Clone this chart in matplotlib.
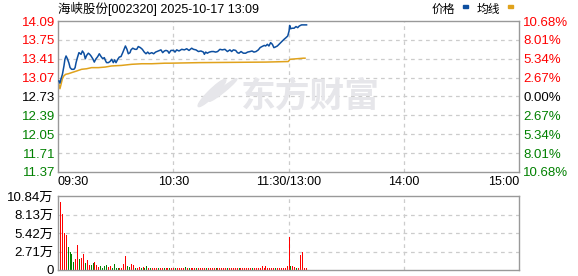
import matplotlib
matplotlib.use("Agg")
import matplotlib.pyplot as plt
from matplotlib.patches import Ellipse

plt.rcParams['font.family'] = ['Liberation Sans', 'Noto Sans CJK SC', 'DejaVu Sans']

# price trace: minutes since 09:30 (afternoon continues at 120)
price_min = [0.5, 1.0, 1.6, 2.3, 3.1, 3.6, 4.2, 4.9, 5.7, 6.3, 7.1, 8.3, 8.9, 9.4, 10.1,
             10.9, 12.0, 12.7, 13.5, 14.2, 14.9, 15.8, 16.5, 17.2, 18.1, 18.9, 19.6, 20.7,
             21.5, 22.4, 23.3, 24.1, 24.8, 25.3, 26.2, 27.1, 27.9, 28.8, 29.5, 30.2, 31.1,
             31.9, 32.8, 33.7, 34.4, 35.1, 35.9, 36.6, 37.5, 38.0, 38.9, 40.1, 41.0, 41.8,
             42.9, 43.9, 44.9, 45.8, 46.7, 47.5, 48.8, 49.8, 50.8, 52.2, 53.6, 54.5, 55.4,
             56.2, 57.1, 57.8, 58.8, 60.2, 60.9, 61.8, 63.0, 64.4, 65.8, 67.0, 68.2, 69.6,
             70.5, 71.8, 73.1, 74.4, 75.7, 76.2, 76.9, 77.7, 78.8, 80.0, 80.9, 82.1, 83.1,
             84.3, 85.5, 86.9, 88.2, 89.5, 90.4, 91.3, 92.5, 93.4, 94.2, 95.3, 96.5, 97.7,
             98.7, 100.0, 101.0, 102.0, 103.1, 104.3, 105.2, 106.2, 107.4, 108.1, 109.0,
             109.8, 110.7, 111.6, 112.4, 113.1, 114.2, 115.6, 116.8, 117.7, 118.7, 119.6,
             120.3, 120.6, 121.1, 121.8, 122.9, 123.9, 124.8, 125.6, 126.8, 128.1, 129.4]
price = [13.01, 12.97, 13.05, 13.13, 13.28, 13.40, 13.46, 13.41, 13.33, 13.25, 13.22, 13.22,
         13.25, 13.34, 13.43, 13.52, 13.49, 13.55, 13.51, 13.41, 13.47, 13.51, 13.49, 13.46,
         13.41, 13.35, 13.40, 13.45, 13.50, 13.45, 13.41, 13.43, 13.37, 13.34, 13.34, 13.36,
         13.40, 13.34, 13.39, 13.34, 13.40, 13.44, 13.45, 13.52, 13.58, 13.64, 13.58, 13.50,
         13.52, 13.57, 13.60, 13.58, 13.58, 13.63, 13.61, 13.58, 13.53, 13.50, 13.53, 13.50,
         13.52, 13.50, 13.53, 13.55, 13.57, 13.52, 13.55, 13.56, 13.55, 13.51, 13.56, 13.56,
         13.53, 13.57, 13.55, 13.58, 13.57, 13.59, 13.56, 13.60, 13.58, 13.57, 13.54, 13.55,
         13.53, 13.49, 13.53, 13.51, 13.53, 13.54, 13.54, 13.53, 13.54, 13.58, 13.57, 13.58,
         13.54, 13.57, 13.54, 13.57, 13.56, 13.52, 13.51, 13.54, 13.51, 13.51, 13.53, 13.54,
         13.55, 13.53, 13.54, 13.57, 13.61, 13.63, 13.65, 13.64, 13.67, 13.64, 13.70, 13.67,
         13.61, 13.62, 13.64, 13.69, 13.73, 13.76, 13.79, 13.82, 13.91, 14.01, 13.95, 13.96,
         13.96, 13.99, 13.97, 14.00, 14.02, 14.02, 14.02]

avg_min = [0.5, 1.0, 1.6, 2.3, 3.0, 4.0, 5.4, 7.1, 8.9, 10.6, 12.3, 14.9, 17.5, 21.0, 24.5,
           27.9, 33.1, 38.4, 43.6, 48.8, 55.7, 58.3, 73.6, 108.3, 119.9, 120.8, 124.3,
           127.7, 128.6]
avg = [12.95, 12.87, 12.95, 13.05, 13.10, 13.13, 13.14, 13.16, 13.18, 13.20, 13.22, 13.23,
       13.25, 13.25, 13.26, 13.28, 13.29, 13.31, 13.32, 13.32, 13.33, 13.33, 13.34, 13.35,
       13.36, 13.40, 13.41, 13.42, 13.42]

# volume per minute (万), minute 1..129, r = up, g = down
vol = [9.96, 8.20, 5.47, 5.13, 3.42, 2.64, 2.34, 1.22, 1.56, 3.66,
       1.60, 1.76, 2.34, 1.00, 1.50, 0.70, 0.70, 0.98, 1.17, 0.73,
       0.44, 0.63, 0.34, 0.59, 0.73, 0.44, 0.59, 0.25, 0.88, 0.29,
       0.29, 0.25, 0.29, 0.88, 2.05, 0.59, 0.44, 0.88, 0.73, 0.29,
       0.29, 0.44, 0.29, 0.44, 0.25, 0.59, 0.25, 0.30, 0.25, 0.25,
       0.25, 0.25, 0.30, 0.25, 0.25, 0.25, 0.30, 0.25, 0.25, 0.25,
       0.25, 0.30, 0.25, 0.25, 0.25, 0.39, 0.25, 0.25, 0.30, 0.25,
       0.25, 0.25, 0.25, 0.30, 0.25, 0.25, 0.25, 0.25, 0.25, 0.30,
       0.25, 0.25, 0.25, 0.25, 0.30, 0.25, 0.25, 0.25, 0.25, 0.25,
       0.30, 0.25, 0.25, 0.25, 0.25, 0.25, 0.30, 0.25, 0.25, 0.25,
       0.25, 0.25, 0.30, 0.25, 0.25, 0.59, 0.25, 0.59, 0.25, 0.25,
       0.30, 0.25, 0.25, 0.25, 0.25, 0.30, 0.25, 0.30, 0.59, 4.83,
       0.59, 0.59, 0.44, 0.29, 0.25, 2.20, 2.64, 0.25, 0.25]
vol_dir = ("rrrrggggrr" "grrgrrggrr" "rggggrrggg" "grrrrggrrg" "rrgrggrgrr"
           "rgrrgrrgrr" "grrrrgrgrr" "rgrrrrgrrr" "rgrrrrrgrr" "rrrgrrrrrr"
           "grrrrrrrrr" "rrgrrrrrrr" "grrgrrrrr")

price_ticks = [14.09, 13.75, 13.41, 13.07, 12.73, 12.39, 12.05, 11.71, 11.37]
pct_labels = ["10.68%", "8.01%", "5.34%", "2.67%", "0.00%", "2.67%", "5.34%", "8.01%", "10.68%"]
vol_ticks = [0, 2.71, 5.42, 8.13, 10.84]
vol_labels = ["0", "2.71万", "5.42万", "8.13万", "10.84万"]
time_ticks = [0, 60, 120, 180, 240]
time_labels = ["09:30", "10:30", "11:30/13:00", "14:00", "15:00"]

RED, GREEN, BLACK = "#ff0000", "#008000", "#000000"
BLUE, GOLD = "#0d4fa0", "#e0a21c"
GRID = "#cccccc"
FRAME = "#999999"

W, H = 578, 276
fig = plt.figure(figsize=(W / 100, H / 100), dpi=100)

def frac(x0, y0, x1, y1):
    return [x0 / W, 1 - y1 / H, (x1 - x0) / W, (y1 - y0) / H]

ax = fig.add_axes(frac(58, 21, 519, 172))
axv = fig.add_axes(frac(58, 196, 519, 270))

for a in (ax, axv):
    a.set_xlim(0, 240)
    for s in a.spines.values():
        s.set_color(FRAME)
        s.set_linewidth(1.0)
    for t in (60, 120, 180):
        a.axvline(t, color=GRID, lw=0.9, ls=(0, (3, 3)), zorder=0)
    a.tick_params(length=0)

# watermark
WM = "#e6e6ea"
fig.text(310 / W, 1 - 96 / H, "东方财富", fontsize=25, fontweight='bold',
         color=WM, ha='center', va='center', family=['Noto Sans CJK SC'], zorder=0)
fig.patches.append(Ellipse((212 / W, 1 - 93 / H), 9 / W, 30 / H, angle=-25,
                           transform=fig.transFigure, color=WM, zorder=0))
fig.patches.append(Ellipse((223 / W, 1 - 90 / H), 6 / W, 26 / H, angle=-30,
                           transform=fig.transFigure, color=WM, zorder=0))

# price panel
ax.set_ylim(11.37, 14.09)
for p in price_ticks[1:-1]:
    ax.axhline(p, color=GRID, lw=0.9, ls=(0, (3, 3)), zorder=0)
ax.plot(avg_min, avg, color=GOLD, lw=1.1, zorder=2)
ax.plot(price_min, price, color=BLUE, lw=1.1, zorder=3)
ax.set_yticks(price_ticks)
ax.set_yticklabels([f"{p:.2f}" for p in price_ticks], fontsize=9.5)
for lab, p in zip(ax.get_yticklabels(), price_ticks):
    lab.set_color(RED if p > 12.74 else (BLACK if p > 12.72 else GREEN))
ax.tick_params(axis='y', pad=2)

axr = ax.twinx()
axr.set_ylim(ax.get_ylim())
axr.set_yticks(price_ticks)
axr.set_yticklabels(pct_labels, fontsize=9.5)
for lab, p in zip(axr.get_yticklabels(), price_ticks):
    lab.set_color(RED if p > 12.74 else (BLACK if p > 12.72 else GREEN))
axr.tick_params(length=0, pad=3)
for s in axr.spines.values():
    s.set_visible(False)

ax.set_xticks(time_ticks)
ax.set_xticklabels(time_labels, fontsize=9)
ax.tick_params(axis='x', pad=3)
xl = ax.get_xticklabels()
xl[0].set_ha('left')
xl[-1].set_ha('right')

# volume panel
axv.set_ylim(0, 10.84)
for v in vol_ticks[1:-1]:
    axv.axhline(v, color=GRID, lw=0.9, ls=(0, (3, 3)), zorder=0)
mins = list(range(1, len(vol) + 1))
cols = [RED if c == 'r' else GREEN for c in vol_dir]
axv.vlines(mins, 0, vol, colors=cols, lw=0.72, antialiased=False, zorder=2)
axv.set_yticks(vol_ticks)
axv.set_yticklabels(vol_labels, fontsize=9.5)
axv.tick_params(axis='y', pad=3)
axv.set_xticks([])

# title and legend
fig.text(58 / W, 1 - 9 / H, "海峡股份[002320] 2025-10-17 13:09", fontsize=9,
         va='center', ha='left')
fig.text(432 / W, 1 - 10 / H, "价格", fontsize=8.5, va='center', ha='left')
fig.patches.append(plt.Rectangle((463 / W, 1 - 8 / H), 5 / W, 3 / H,
                                 transform=fig.transFigure, color=BLUE))
fig.text(477 / W, 1 - 10 / H, "均线", fontsize=8.5, va='center', ha='left')
fig.patches.append(plt.Rectangle((508 / W, 1 - 8 / H), 5 / W, 3 / H,
                                 transform=fig.transFigure, color=GOLD))

fig.savefig("out.png", dpi=100)
